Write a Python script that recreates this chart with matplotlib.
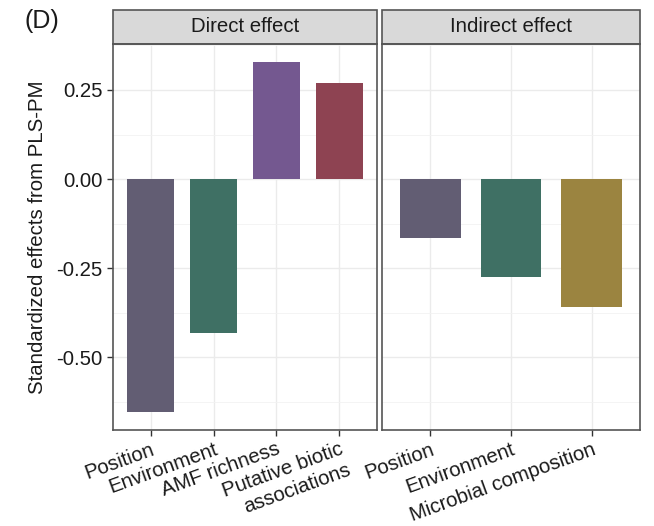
import numpy as np
import matplotlib.pyplot as plt
from matplotlib.patches import Rectangle
from matplotlib.ticker import MultipleLocator

plt.rcParams['font.family'] = ['Liberation Sans', 'DejaVu Sans']

# data
direct_labels = ['Position', 'Environment', 'AMF richness', 'Putative biotic\nassociations']
direct_values = [-0.654, -0.433, 0.329, 0.270]
direct_colors = ['#625d73', '#3f7064', '#745890', '#8e4352']

indirect_labels = ['Position', 'Environment', 'Microbial composition']
indirect_values = [-0.166, -0.275, -0.360]
indirect_colors = ['#625d73', '#3f7064', '#9b8440']

fig = plt.figure(figsize=(6.54, 5.26), dpi=100)
W, H = 654, 526
ax1 = fig.add_axes([113 / W, (H - 430) / H, 264 / W, 386 / H])
ax2 = fig.add_axes([382 / W, (H - 430) / H, 258 / W, 386 / H], sharey=ax1)

ylim = (-0.704, 0.379)
fs = 14.7


def panel(ax, labels, values, colors, title):
    x = np.arange(len(labels))
    ax.set_axisbelow(True)
    ax.bar(x, values, width=0.75, color=colors, zorder=2)
    ax.set_xlim(-0.6, len(labels) - 0.4)
    ax.set_ylim(*ylim)
    ax.yaxis.set_major_locator(MultipleLocator(0.25))
    ax.yaxis.set_minor_locator(MultipleLocator(0.125))
    ax.grid(which='major', color='#ebebeb', lw=1.0)
    ax.grid(which='minor', axis='y', color='#f2f2f2', lw=0.6)
    ax.set_xticks(x)
    ax.set_xticklabels(labels, rotation=20, ha='right', va='top',
                       rotation_mode='anchor', multialignment='right',
                       fontsize=fs, color='#1a1a1a')
    ax.tick_params(axis='x', length=4, width=1, color='#333333', pad=3)
    ax.tick_params(axis='y', which='major', length=4, width=1,
                   color='#333333', labelsize=fs, labelcolor='#1a1a1a')
    ax.tick_params(axis='y', which='minor', length=0)
    for s in ax.spines.values():
        s.set_color('#555555')
        s.set_linewidth(1.2)
    # facet strip
    h = 34 / 386
    ax.add_patch(Rectangle((0, 1), 1, h, transform=ax.transAxes,
                           facecolor='#d9d9d9', edgecolor='#555555', lw=1.2,
                           clip_on=False))
    ax.text(0.5, 1 + h / 2, title, transform=ax.transAxes, ha='center',
            va='center', fontsize=fs, color='#1a1a1a')


panel(ax1, direct_labels, direct_values, direct_colors, 'Direct effect')
panel(ax2, indirect_labels, indirect_values, indirect_colors, 'Indirect effect')

ax1.set_yticks([-0.5, -0.25, 0, 0.25])
ax1.set_yticklabels(['-0.50', '-0.25', '0.00', '0.25'])
ax2.tick_params(axis='y', which='both', labelleft=False, left=False)

fig.text(38 / W, 1 - 237 / H, 'Standardized effects from PLS-PM', rotation=90,
         ha='center', va='center', fontsize=fs, color='#1a1a1a')
fig.text(24 / W, 1 - 21 / H, '(D)', ha='left', va='center', fontsize=18,
         color='#1a1a1a')

fig.savefig('out.png', dpi=100)
